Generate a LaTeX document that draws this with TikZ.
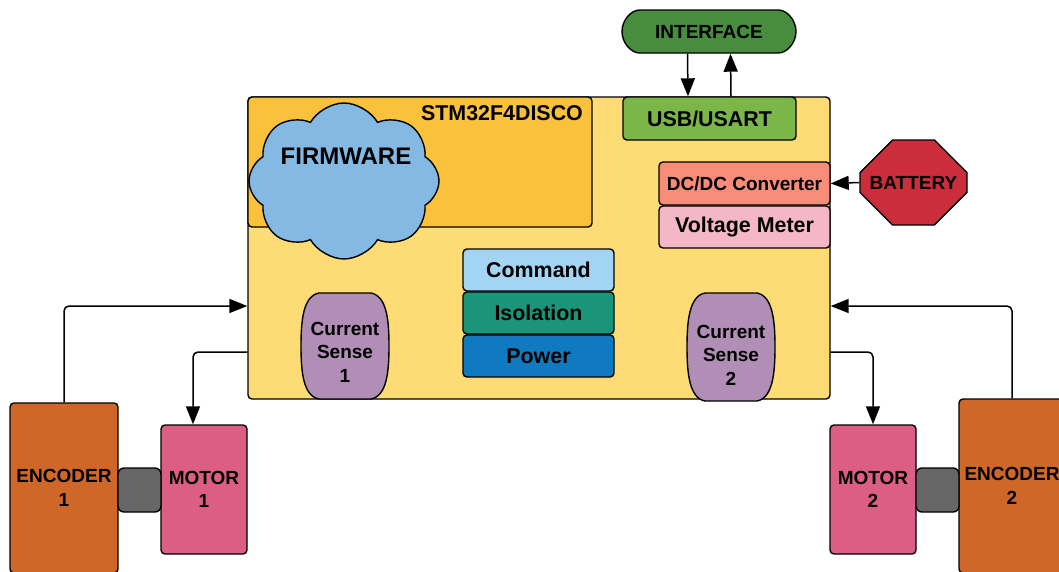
\documentclass[tikz,border=0pt]{standalone}
\usepackage{fontspec}
\setmainfont{Liberation Sans}
\usepackage{tikz}
\usetikzlibrary{shapes.symbols,shapes.misc,arrows.meta}

\definecolor{boardyel}{HTML}{FDDC76}
\definecolor{fwarea}{HTML}{FAC23B}
\definecolor{cloudblue}{HTML}{84B9E3}
\definecolor{usbgreen}{HTML}{7AB648}
\definecolor{ifgreen}{HTML}{488C3F}
\definecolor{dcsalmon}{HTML}{F98D79}
\definecolor{voltpink}{HTML}{F3B7C7}
\definecolor{batred}{HTML}{CB2D3B}
\definecolor{cmdblue}{HTML}{A4D4F4}
\definecolor{isoteal}{HTML}{1B9579}
\definecolor{pwrblue}{HTML}{0F7AC0}
\definecolor{senselav}{HTML}{B08EB5}
\definecolor{encorange}{HTML}{CE6727}
\definecolor{motpink}{HTML}{DD5E85}
\definecolor{cplgray}{HTML}{666666}

\tikzstyle{blk}=[draw,line width=1.4pt,rounded corners=4pt,inner sep=0pt,align=center,
  text=black,font=\fontsize{19}{23.5}\selectfont\bfseries]
\tikzstyle{lbl}=[inner sep=0pt,align=center,text=black,font=\fontsize{19}{23.5}\selectfont\bfseries]
\tikzstyle{big}=[font=\fontsize{21.4}{25}\selectfont\bfseries]
\tikzstyle{senseshape}=[draw,line width=1.4pt,fill=senselav]
\tikzstyle{link}=[draw,line width=1.5pt,rounded corners=5pt,-{Triangle[length=18pt,width=14pt]}]

\begin{document}
\begin{tikzpicture}[x=1pt,y=-1pt]

	\useasboundingbox (0,0) rectangle (1059,571);
	\clip (0,0) rectangle (1059,571);

	% board
	\node[blk,fill=boardyel,minimum width=582pt,minimum height=302pt] (mcu) at (539,248) {};
	\node[blk,fill=fwarea,minimum width=344pt,minimum height=130pt] (fwa) at (420,162) {};
	\node[lbl,big] (stm) at (502,113) {STM32F4DISCO};

	\node[cloud,draw,line width=1.4pt,fill=cloudblue,cloud puffs=8,cloud puff arc=120,
	      aspect=1.2,minimum width=190pt,minimum height=156pt,inner sep=0pt] (fw) at (344,181) {};
	\node[lbl,font=\fontsize{24}{28}\selectfont\bfseries] (fwt) at (346,156) {FIRMWARE};

	\node[blk,big,fill=usbgreen,minimum width=173pt,minimum height=43pt] (usb) at (709.5,118.5) {USB/USART};
	\node[blk,rounded rectangle,fill=ifgreen,minimum width=174pt,minimum height=43pt] (iface) at (709,31.5) {INTERFACE};

	\node[blk,fill=dcsalmon,minimum width=171pt,minimum height=43pt,font=\fontsize{19}{23}\selectfont\bfseries] (dcdc) at (744.5,183.5) {DC/DC Converter};
	\node[blk,big,fill=voltpink,minimum width=171pt,minimum height=42pt] (volt) at (744.5,227) {Voltage Meter};
	\node[blk,chamfered rectangle,chamfered rectangle xsep=26pt,chamfered rectangle ysep=26pt,
	      rounded corners=0pt,fill=batred,minimum width=107pt,minimum height=85pt] (bat) at (913.5,182.5) {BATTERY};

	\node[blk,big,fill=cmdblue,minimum width=151pt,minimum height=42pt] (cmd) at (538.5,270) {Command};
	\node[blk,big,fill=isoteal,minimum width=151pt,minimum height=42pt] (iso) at (538.5,313) {Isolation};
	\node[blk,big,fill=pwrblue,minimum width=151pt,minimum height=42pt] (pwr) at (538.5,356) {Power};

	% current sense
	\coordinate (cs1c) at (345,346);
	\path[senseshape] (cs1c) ++(-26,-53) -- ++(52,0)
	  .. controls +(16,3) and +(0,-25) .. ++(18,53)
	  .. controls +(0,25) and +(16,-3) .. ++(-18,53) -- ++(-52,0)
	  .. controls +(-16,-3) and +(0,25) .. ++(-18,-53)
	  .. controls +(0,-25) and +(-16,3) .. ++(18,-53) -- cycle;
	\node[lbl] (cs1) at (345,352) {Current\\Sense\\1};

	\coordinate (cs2c) at (731,347);
	\path[senseshape] (cs2c) ++(-26,-54) -- ++(52,0)
	  .. controls +(16,3) and +(0,-25) .. ++(18,54)
	  .. controls +(0,25) and +(16,-3) .. ++(-18,54) -- ++(-52,0)
	  .. controls +(-16,-3) and +(0,25) .. ++(-18,-54)
	  .. controls +(0,-25) and +(-16,3) .. ++(18,-54) -- cycle;
	\node[lbl] (cs2) at (731,355) {Current\\Sense\\2};

	% drives
	\node[blk,fill=encorange,minimum width=108pt,minimum height=170pt] (enc1) at (64,488) {ENCODER\\1};
	\node[blk,fill=motpink,minimum width=86pt,minimum height=129pt] (mot1) at (204,489.5) {MOTOR\\1};
	\node[blk,fill=cplgray,minimum width=43pt,minimum height=44pt,rounded corners=6pt] (cpl1) at (139.5,490) {};

	\node[blk,fill=motpink,minimum width=86pt,minimum height=129pt] (mot2) at (873,489.5) {MOTOR\\2};
	\node[blk,fill=encorange,minimum width=106pt,minimum height=174pt] (enc2) at (1012,486) {ENCODER\\2};
	\node[blk,fill=cplgray,minimum width=43pt,minimum height=44pt,rounded corners=6pt] (cpl2) at (937.5,490) {};

	% links
	\path[link] ([xshift=-21.5pt]iface.south) -- ([xshift=-21.5pt]usb.north);
	\path[link] ([xshift=21.5pt]usb.north) -- ([xshift=21.5pt]iface.south);
	\path[link] (bat.west) -- (dcdc.east);

	\path[link] (enc1.north) |- ([yshift=-58pt]mcu.west);
	\path[link] ([yshift=-104pt]mcu.west) -| ([xshift=-11pt]mot1.north);
	\path[link] (enc2.north) |- ([yshift=-58pt]mcu.east);
	\path[link] ([yshift=-104pt]mcu.east) -| (mot2.north);

\end{tikzpicture}
\end{document}
